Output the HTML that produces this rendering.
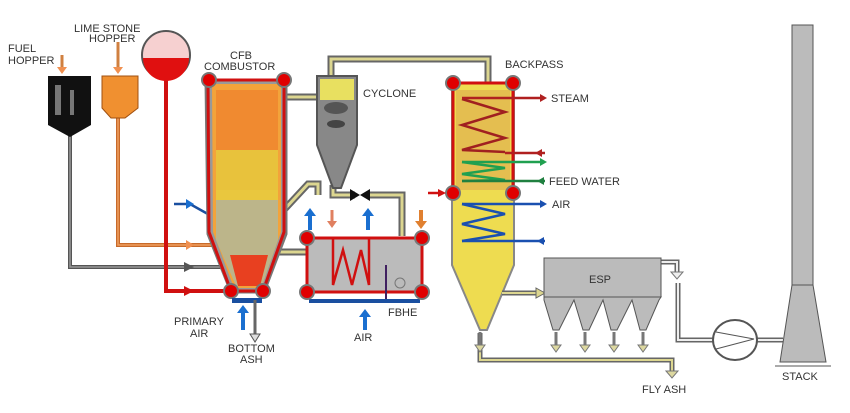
<!DOCTYPE html>
<html><head><meta charset="utf-8"><style>
html,body{margin:0;padding:0;background:#fff;width:850px;height:413px;overflow:hidden}
text{font-family:"Liberation Sans",sans-serif;font-size:11px;fill:#333}
</style></head><body>
<svg width="850" height="413" viewBox="0 0 850 413" xmlns="http://www.w3.org/2000/svg">
<defs>
<marker id="ag" markerWidth="6" markerHeight="6" refX="3" refY="3" orient="auto"><path d="M0,0L6,3L0,6z" fill="#555"/></marker>
</defs>
<!-- pipes (gray double with yellow) -->
<g fill="none" stroke-linejoin="miter">
<path d="M331,82 V59 H488 V86" stroke="#666" stroke-width="7"/>
<path d="M331,82 V59 H488 V86" stroke="#dcd690" stroke-width="3"/>
<path d="M285,97 H318" stroke="#666" stroke-width="7"/><path d="M285,97 H318" stroke="#dcd690" stroke-width="3"/>
<path d="M333,185 V195 H355" stroke="#666" stroke-width="7"/><path d="M333,185 V195 H355" stroke="#dcd690" stroke-width="3"/>
<path d="M282,212 L308,184 H318 V195" stroke="#666" stroke-width="7"/><path d="M282,212 L308,184 H318 V195" stroke="#dcd690" stroke-width="3"/>
<path d="M370,195 H402 V236" stroke="#666" stroke-width="7"/><path d="M370,195 H402 V236" stroke="#dcd690" stroke-width="3"/>
<path d="M275,252 H310" stroke="#666" stroke-width="7"/><path d="M275,252 H310" stroke="#dcd690" stroke-width="3"/>
<path d="M480,333 V360 H672 V372" stroke="#666" stroke-width="5"/><path d="M480,333 V360 H672 V372" stroke="#dcd690" stroke-width="2"/>
<path d="M661,262 H677 V272" stroke="#666" stroke-width="5"/><path d="M661,262 H677 V272" stroke="#eee" stroke-width="2"/>
<path d="M678,283 V340 H714 M757,340 H783" stroke="#666" stroke-width="5"/><path d="M678,283 V340 H714 M757,340 H783" stroke="#eee" stroke-width="2"/>
<!-- feed lines -->
<path d="M70,135 V267 H222" stroke="#555" stroke-width="4"/>
<path d="M70,135 V267 H222" stroke="#999" stroke-width="1.5"/>
<path d="M118,118 V245 H215" stroke="#c86a2a" stroke-width="4"/>
<path d="M118,118 V245 H215" stroke="#f0a060" stroke-width="1.5"/>
<path d="M166,70 V291 H228" stroke="#d01010" stroke-width="4"/>
<path d="M174,204 H190 L215,218" stroke="#1a4fa0" stroke-width="2.5"/>
</g>
<!-- hoppers -->
<path d="M48,76 H91 V125 L70,137 L48,125 Z" fill="#111"/>
<path d="M55,85 h6 v30 h-6z M70,90 h4 v25 h-4z" fill="#777"/>
<path d="M102,76 H138 V108 L125,118 H111 L102,108 Z" fill="#f09030" stroke="#a05010"/>
<circle cx="166" cy="55" r="24" fill="#f6d0d0" stroke="#555" stroke-width="2"/>
<path d="M143,58 H189 A23,23 0 0 1 143,58 Z" fill="#e01010"/>
<!-- combustor -->
<path d="M206,80 H286 V234 L264,292 H231 L208,234 Z" fill="#999" stroke="#777" stroke-width="3"/>
<path d="M212,84 H281 V232 L261,288 H234 L213,232 Z" fill="#f3a33a"/>
<path d="M216,90 H278 V190 H216Z" fill="#f08a30"/>
<path d="M216,150 H278 V200 H216Z" fill="#e6d040" opacity=".8"/>
<path d="M216,200 H278 V240 L262,286 H236 L216,240Z" fill="#bcb58a"/>
<path d="M230,255 H268 L260,286 H238Z" fill="#e84020"/>
<path d="M208,80 H284 V232 L263,291 H231 L209,232 Z" fill="none" stroke="#d01010" stroke-width="3"/>
<g fill="#e00000" stroke="#777" stroke-width="2"><circle cx="209" cy="80" r="7"/><circle cx="284" cy="80" r="7"/><circle cx="231" cy="291" r="7"/><circle cx="263" cy="291" r="7"/></g>
<rect x="232" y="298" width="30" height="5" fill="#1a4fa0"/>
<path d="M243,330 V311" stroke="#1a6fd0" stroke-width="4" fill="none"/><path d="M237,313 L243,305 L249,313Z" fill="#1a6fd0"/>
<path d="M255,300 V336" stroke="#666" stroke-width="3"/><path d="M250,334 L255,342 L260,334Z" fill="#ddd" stroke="#555"/>
<!-- arrows into combustor -->
<path d="M186,240 L194,245 L186,250Z" fill="#f09050"/>
<path d="M184,262 L194,267 L184,272Z" fill="#555"/>
<path d="M184,286 L194,291 L184,296Z" fill="#d01010"/>
<path d="M186,199 L194,204 L186,209Z" fill="#1a6fd0"/>
<path d="M62,55 V69" stroke="#d08040" stroke-width="3"/><path d="M57,67 L62,74 L67,67Z" fill="#f09050"/>
<path d="M118,42 V69" stroke="#d08040" stroke-width="3"/><path d="M113,67 L118,74 L123,67Z" fill="#f09050"/>
<!-- cyclone -->
<path d="M317,76 H357 V145 L341,188 H333 L317,145 Z" fill="#888" stroke="#555" stroke-width="2"/>
<path d="M320,79 H354 V100 H320Z" fill="#e8e060"/>
<ellipse cx="336" cy="108" rx="12" ry="6" fill="#555"/>
<ellipse cx="336" cy="124" rx="9" ry="4" fill="#444"/>
<!-- valve -->
<path d="M350,189 L360,195 L350,201Z M370,189 L360,195 L370,201Z" fill="#111"/>
<!-- FBHE -->
<rect x="307" y="238" width="115" height="54" fill="#bbb"/>
<rect x="307" y="238" width="115" height="54" fill="none" stroke="#d01010" stroke-width="3"/>
<path d="M333,238 V285 L343,250 L352,285 L361,250 L369,285 V238" fill="none" stroke="#d01010" stroke-width="2.5"/>
<path d="M386,265 V300" stroke="#402060" stroke-width="2"/>
<circle cx="400" cy="283" r="5" fill="none" stroke="#777"/>
<rect x="309" y="299" width="111" height="4" fill="#1a4fa0"/>
<g fill="#e00000" stroke="#777" stroke-width="2"><circle cx="307" cy="238" r="7"/><circle cx="422" cy="238" r="7"/><circle cx="307" cy="292" r="7"/><circle cx="422" cy="292" r="7"/></g>
<path d="M310,230 V214" stroke="#1a6fd0" stroke-width="4"/><path d="M304,216 L310,208 L316,216Z" fill="#1a6fd0"/>
<path d="M368,230 V214" stroke="#1a6fd0" stroke-width="4"/><path d="M362,216 L368,208 L374,216Z" fill="#1a6fd0"/>
<path d="M332,210 V223" stroke="#e08060" stroke-width="3"/><path d="M327,221 L332,228 L337,221Z" fill="#e08060"/>
<path d="M421,210 V223" stroke="#e08030" stroke-width="4"/><path d="M415,221 L421,229 L427,221Z" fill="#e08030"/>
<path d="M365,330 V315" stroke="#1a6fd0" stroke-width="4"/><path d="M359,317 L365,309 L371,317Z" fill="#1a6fd0"/>
<!-- backpass -->
<path d="M452,83 H514 V265 L487,330 H480 L452,265 Z" fill="#eedc50" stroke="#888" stroke-width="2"/>
<path d="M456,90 H510 V190 H456Z" fill="#e0b050" opacity=".7"/>
<path d="M453,83 H513 V193 M453,83 V193" fill="none" stroke="#d01010" stroke-width="3"/>
<path d="M462,99 L505,112 L462,125 L505,138 L462,150 L505,152" fill="none" stroke="#a02020" stroke-width="2.5"/>
<path d="M462,162 L505,168 L462,174 L505,180 L462,181" fill="none" stroke="#20a050" stroke-width="2.5"/>
<path d="M462,204 L505,214 L462,224 L505,234 L462,241" fill="none" stroke="#1a50b0" stroke-width="2.5"/>
<g fill="#e00000" stroke="#777" stroke-width="2"><circle cx="453" cy="83" r="7"/><circle cx="513" cy="83" r="7"/><circle cx="453" cy="193" r="7"/><circle cx="513" cy="193" r="7"/></g>
<g stroke-width="2.5" fill="none">
<path d="M462,98 H540" stroke="#b02020"/><path d="M505,153 H545" stroke="#b02020"/>
<path d="M462,162 H540" stroke="#20a050"/><path d="M462,181 H545" stroke="#208040"/>
<path d="M462,204 H540" stroke="#1a50b0"/><path d="M462,241 H545" stroke="#1a50b0"/>
<path d="M428,193 H440" stroke="#d01010"/>
</g>
<path d="M540,94 L547,98 L540,102Z" fill="#b02020"/>
<path d="M542,149 L535,153 L542,157Z" fill="#b02020"/>
<path d="M540,158 L547,162 L540,166Z" fill="#20a050"/>
<path d="M544,177 L537,181 L544,185Z" fill="#208040"/>
<path d="M540,200 L547,204 L540,208Z" fill="#1a50b0"/>
<path d="M544,237 L537,241 L544,245Z" fill="#1a50b0"/>
<path d="M438,189 L446,193 L438,197Z" fill="#d01010"/>
<!-- ESP -->
<path d="M502,293 H536" stroke="#666" stroke-width="5"/><path d="M502,293 H536" stroke="#dcd690" stroke-width="2"/>
<path d="M536,288 L545,293 L536,298Z" fill="#dcd690" stroke="#666"/>
<rect x="544" y="258" width="117" height="39" fill="#bbb" stroke="#555"/>
<path d="M544,297 H661 L659,300 L646,330 H640 L632,300 L617,330 H611 L603,300 L589,330 H583 L574,300 L559,330 H553 L544,300Z" fill="#bbb" stroke="#555"/>
<g stroke="#777" stroke-width="3"><path d="M556,332 V345 M585,332 V345 M614,332 V345 M643,332 V345 M480,332 V345"/></g>
<g fill="#ddd8a0" stroke="#777"><path d="M551,345 L556,352 L561,345Z"/><path d="M580,345 L585,352 L590,345Z"/><path d="M609,345 L614,352 L619,345Z"/><path d="M638,345 L643,352 L648,345Z"/><path d="M475,345 L480,352 L485,345Z"/><path d="M666,371 L672,378 L678,371Z"/><path d="M671,272 L677,279 L683,272Z" fill="#eee"/></g>
<!-- fan -->
<ellipse cx="735" cy="340" rx="22" ry="20" fill="#fff" stroke="#555" stroke-width="2"/>
<path d="M716,332 L754,339 L716,349" fill="none" stroke="#555"/>
<!-- stack -->
<rect x="792" y="25" width="21" height="262" fill="#bbb" stroke="#555"/>
<path d="M792,285 H813 L826,362 H780Z" fill="#bbb" stroke="#555"/>
<path d="M775,366 H831" stroke="#555"/>
<!-- labels -->
<text x="8" y="52">FUEL</text><text x="8" y="64">HOPPER</text>
<text x="74" y="32">LIME STONE</text><text x="89" y="42">HOPPER</text>
<text x="230" y="59">CFB</text><text x="204" y="70">COMBUSTOR</text>
<text x="363" y="97">CYCLONE</text>
<text x="505" y="68">BACKPASS</text>
<text x="551" y="102">STEAM</text>
<text x="549" y="185">FEED WATER</text>
<text x="552" y="208">AIR</text>
<text x="589" y="283">ESP</text>
<text x="174" y="325">PRIMARY</text><text x="190" y="337">AIR</text>
<text x="228" y="352">BOTTOM</text><text x="240" y="363">ASH</text>
<text x="388" y="316">FBHE</text>
<text x="354" y="341">AIR</text>
<text x="642" y="393">FLY ASH</text>
<text x="782" y="380">STACK</text>
</svg>
</body></html>
